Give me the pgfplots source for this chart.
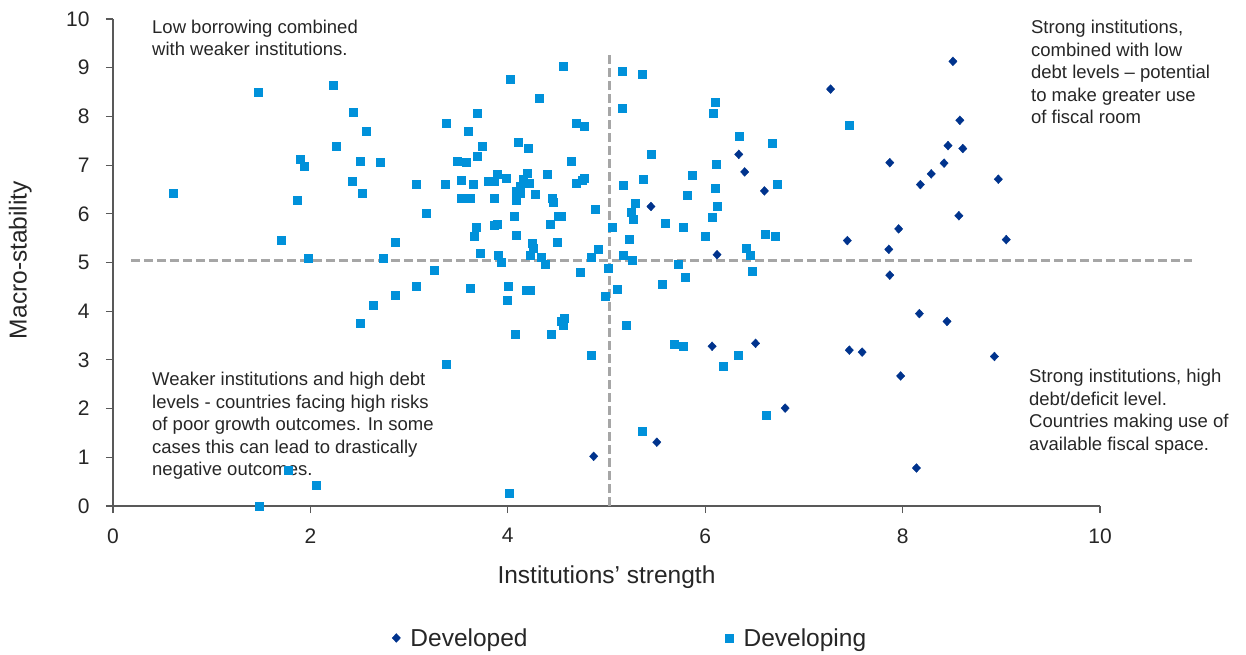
\documentclass[border=0pt]{standalone}
\usepackage{pgfplots}
\pgfplotsset{compat=1.18}
\usepackage{fontspec}
\setmainfont{Liberation Sans}
\definecolor{devd}{HTML}{00338D}
\definecolor{devg}{HTML}{0091DA}
\definecolor{refgray}{HTML}{A6A6A6}
\definecolor{axgray}{HTML}{595959}
\definecolor{txt}{HTML}{262626}
\begin{document}
\begin{tikzpicture}
\useasboundingbox (-113pt,-149pt) rectangle (1133pt,506pt);
\begin{axis}[
  at={(0pt,0pt)}, anchor=south west,
  width=987pt, height=487pt, scale only axis,
  xmin=0, xmax=10, ymin=0, ymax=10,
  xtick={0,2,4,6,8,10}, ytick={0,1,2,3,4,5,6,7,8,9,10},
  axis x line*=bottom, axis y line*=left,
  axis line style={axgray, line width=1.1pt},
  tick style={axgray, line width=1.1pt},
  tick align=outside, major tick length=7pt,
  /pgf/number format/assume math mode=true,
  ticklabel style={font=\fontsize{21}{25}\selectfont, text=txt},
  xticklabel style={yshift=-12pt},
  yticklabel style={xshift=-13pt},
  clip=false,
  xlabel={Institutions’ strength},
  ylabel={Macro-stability},
  label style={font=\fontsize{24.5}{29}\selectfont, text=txt},
  x label style={at={(axis description cs:0.5,-0.146)}, anchor=center},
  y label style={at={(axis description cs:-0.094,0.505)}, anchor=center},
  legend columns=2,
  legend style={at={(0.524,-0.271)}, anchor=center, draw=none,
    font=\fontsize{24.5}{29}\selectfont, text=txt,
    /tikz/every odd column/.append style={column sep=8pt},
    /tikz/every even column/.append style={column sep=196pt}},
]
\addplot[refgray, line width=3pt, dash pattern=on 9pt off 4pt, forget plot] coordinates {(0.18,5.05) (10.93,5.05)};
\addplot[refgray, line width=3pt, dash pattern=on 9pt off 4pt, forget plot] coordinates {(5.03,0) (5.03,9.26)};
\addplot[only marks, mark=diamond*, mark size=4.4pt, color=devd, mark options={fill=devd, draw=devd, xscale=1.25}] coordinates {
(8.51,9.13) (7.27,8.56) (8.58,7.92) (8.46,7.40) (8.61,7.34) (6.34,7.22) (7.87,7.05)
(8.42,7.04) (6.40,6.86) (8.29,6.82) (8.97,6.71) (8.18,6.60) (6.60,6.47) (8.57,5.96)
(7.96,5.69) (7.44,5.45) (9.05,5.47) (7.86,5.27) (6.12,5.16) (7.87,4.74) (5.45,6.15)
(8.17,3.95) (8.45,3.79) (6.07,3.28) (6.51,3.34) (7.46,3.20) (7.59,3.16) (8.93,3.07)
(7.98,2.67) (6.81,2.01) (8.14,0.78) (5.51,1.31) (4.87,1.02)
};
\addlegendentry{Developed}
\addplot[only marks, mark=square*, mark size=4pt, color=devg, mark options={fill=devg, draw=devg}] coordinates {
(1.47,8.50) (2.23,8.65) (2.43,8.08) (2.57,7.69) (2.26,7.38) (1.90,7.13) (1.94,6.97)
(2.50,7.09) (2.71,7.05) (0.61,6.43) (2.42,6.66) (2.52,6.43) (1.87,6.27) (3.07,6.60)
(3.17,6.02) (1.70,5.45) (2.86,5.41) (1.98,5.09) (2.74,5.09) (3.07,4.52) (2.86,4.32)
(2.64,4.13) (2.50,3.75) (1.77,0.73) (2.06,0.43) (1.48,0.00)
(4.56,9.04) (4.02,8.77) (4.32,8.38) (3.69,8.06) (3.38,7.87) (3.60,7.69) (4.69,7.85)
(4.77,7.79) (4.11,7.48) (3.74,7.38) (4.21,7.34) (3.69,7.19) (3.49,7.07) (3.58,7.05)
(4.64,7.09) (3.89,6.82) (3.98,6.74) (4.20,6.84) (4.40,6.82) (3.53,6.70) (3.37,6.60)
(3.65,6.60) (3.80,6.66) (3.86,6.66) (4.16,6.72) (4.13,6.56) (4.22,6.62) (4.69,6.62)
(4.75,6.68) (4.77,6.74) (4.09,6.46) (4.13,6.43) (4.28,6.41) (3.53,6.31) (3.62,6.31)
(3.86,6.31) (4.09,6.27) (4.45,6.33) (4.46,6.23) (4.06,5.95) (4.51,5.96) (4.54,5.95)
(4.89,6.10) (3.68,5.72) (3.66,5.53) (3.86,5.76) (3.89,5.78) (4.43,5.78) (4.08,5.57)
(3.72,5.20) (3.90,5.14) (3.93,5.00) (4.25,5.39) (4.26,5.30) (4.23,5.16) (4.34,5.10)
(4.50,5.41) (4.92,5.27) (4.84,5.10) (4.38,4.96) (3.25,4.85) (4.73,4.81) (5.02,4.89)
(5.16,8.92) (5.36,8.86) (5.16,8.16) (6.10,8.30) (6.08,8.06) (6.34,7.60) (5.45,7.22)
(6.11,7.01) (5.87,6.80) (5.37,6.72) (5.17,6.58) (5.82,6.39) (6.10,6.52) (6.12,6.15)
(6.07,5.92) (5.29,6.21) (5.25,6.04) (5.27,5.88) (5.59,5.80) (5.78,5.72) (6.00,5.55)
(5.06,5.72) (5.23,5.47) (5.17,5.14) (5.26,5.04) (5.73,4.97) (5.80,4.70)
(6.68,7.44) (7.46,7.81) (6.73,6.60) (6.61,5.59) (6.71,5.55) (6.42,5.30) (6.46,5.14)
(6.48,4.83) (3.62,4.48) (4.00,4.52) (4.19,4.44) (4.23,4.44) (3.99,4.22) (4.99,4.30)
(5.11,4.46) (5.56,4.56) (5.20,3.72) (3.38,2.92) (4.07,3.52) (4.44,3.52) (4.84,3.09)
(4.54,3.80) (4.57,3.85) (4.56,3.72) (5.69,3.33) (5.78,3.29) (6.18,2.88) (5.36,1.53)
(4.01,0.27) (6.33,3.09) (6.62,1.87)
};
\addlegendentry{Developing}
\node[anchor=north west, align=left, inner sep=0pt, text=txt, font=\fontsize{18.5}{21.5}\selectfont] at (axis cs:0.395,9.98) {Low borrowing combined\\with weaker institutions.};
\node[anchor=north west, align=left, inner sep=0pt, text=txt, font=\fontsize{18.5}{22.5}\selectfont] at (axis cs:9.30,9.98) {Strong institutions,\\combined with low\\debt levels – potential\\to make greater use\\of fiscal room};
\node[anchor=north west, align=left, inner sep=0pt, text=txt, font=\fontsize{18.5}{22.5}\selectfont] at (axis cs:9.28,2.81) {Strong institutions, high\\debt/deficit level.\\Countries making use of\\available fiscal space.};
\node[anchor=north west, align=left, inner sep=0pt, text=txt, font=\fontsize{18.5}{22.5}\selectfont] at (axis cs:0.395,2.75) {Weaker institutions and high debt\\levels - countries facing high risks\\of poor growth outcomes. In some\\cases this can lead to drastically\\negative outcomes.};
\end{axis}
\end{tikzpicture}
\end{document}
